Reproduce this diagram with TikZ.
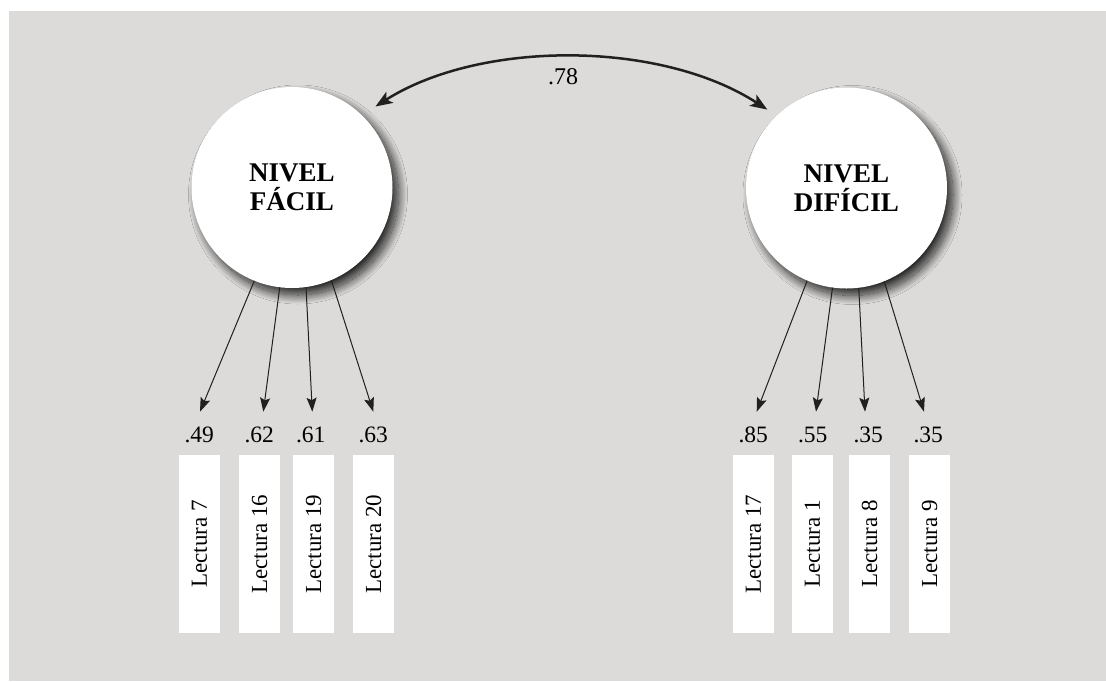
\documentclass[tikz,border=0pt]{standalone}
\usepackage{fontspec}
\setmainfont{Liberation Serif}
\usetikzlibrary{arrows.meta,shadows.blur}
\definecolor{panel}{RGB}{220,219,217}
\definecolor{ink}{RGB}{35,31,32}
\begin{document}
\begin{tikzpicture}[x=1pt,y=-1pt,
  factor/.style={circle,fill=white,minimum size=201pt,inner sep=0pt,align=center,
    font=\bfseries\fontsize{27}{29}\selectfont,text=black,
    blur shadow={shadow xshift=6pt,shadow yshift=-7pt,shadow blur radius=9pt,
      shadow blur steps=30,shadow opacity=85}},
  itembox/.style={rotate=90,fill=white,minimum width=178pt,minimum height=41pt,
    inner sep=0pt,text=black,font=\fontsize{23}{26}\selectfont},
  loadlabel/.style={anchor=base,inner sep=0pt,text=black,font=\fontsize{23.5}{26}\selectfont},
  loadarrow/.style={draw=ink,line width=1pt,-{Stealth[length=14pt,width=10pt,inset=2.5pt]}},
  corrarrow/.style={draw=ink,line width=2.5pt,
    {Stealth[length=17pt,width=13pt,inset=4pt]}-{Stealth[length=17pt,width=13pt,inset=4pt]}}
]
\useasboundingbox (0,0) rectangle (1106,681);
\fill[white] (0,0) rectangle (1106,681);
\fill[panel] (9,11) rectangle (1106,681);

% factors
\node[factor] (fac) at (292,187.5) {NIVEL\\FÁCIL};
\node[factor] (dif) at (846.5,188) {NIVEL\\DIFÍCIL};

% correlation
\draw[corrarrow,shorten <=16pt,shorten >=11pt]
  (fac.46) .. controls (480,40) and (660,40) .. (dif.134);
\node[loadlabel,font=\fontsize{24}{27}\selectfont] (r) at (563,84) {.78};

% items
\node[itembox] (i7)  at (199.5,544) {Lectura 7};
\node[itembox] (i16) at (259.5,544) {Lectura 16};
\node[itembox] (i19) at (313.5,544) {Lectura 19};
\node[itembox] (i20) at (373.5,544) {Lectura 20};
\node[itembox] (i17) at (753.5,544) {Lectura 17};
\node[itembox] (i1)  at (812.5,544) {Lectura 1};
\node[itembox] (i8)  at (869.5,544) {Lectura 8};
\node[itembox] (i9)  at (929.5,544) {Lectura 9};

% loading labels
\node[loadlabel] (l7)  at (199.3,442) {.49};
\node[loadlabel] (l16) at (259.3,442) {.62};
\node[loadlabel] (l19) at (310.7,442) {.61};
\node[loadlabel] (l20) at (373.3,442) {.63};
\node[loadlabel] (l17) at (753.3,442) {.85};
\node[loadlabel] (l1)  at (812.7,442) {.55};
\node[loadlabel] (l8)  at (868.3,442) {.35};
\node[loadlabel] (l9)  at (928.3,442) {.35};

% arrow tips
\coordinate (t7)  at (200,411.7);
\coordinate (t16) at (263.3,411.7);
\coordinate (t19) at (312.3,411.7);
\coordinate (t20) at (373.3,411.7);
\coordinate (t17) at (756.7,411.7);
\coordinate (t1)  at (816,411.7);
\coordinate (t8)  at (865,411.7);
\coordinate (t9)  at (924,411.7);

\draw[loadarrow] (fac.-112.5) -- (t7);
\draw[loadarrow] (fac.-97.5)  -- (t16);
\draw[loadarrow] (fac.-82.5)  -- (t19);
\draw[loadarrow] (fac.-67.5)  -- (t20);
\draw[loadarrow] (dif.-113)   -- (t17);
\draw[loadarrow] (dif.-98)    -- (t1);
\draw[loadarrow] (dif.-83)    -- (t8);
\draw[loadarrow] (dif.-68)    -- (t9);
\end{tikzpicture}
\end{document}
